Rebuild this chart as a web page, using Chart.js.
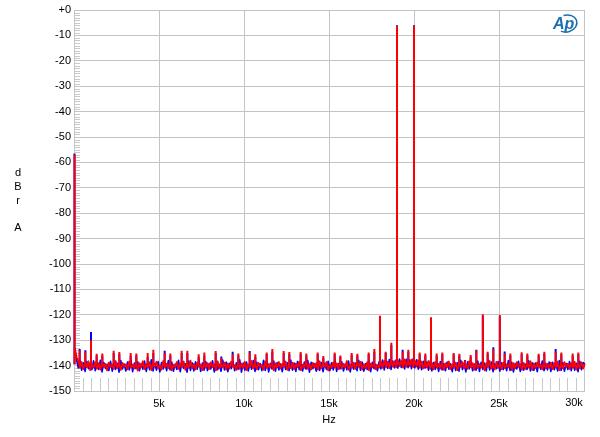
<!DOCTYPE html>
<html>
<head>
<meta charset="utf-8">
<script src="https://cdn.jsdelivr.net/npm/chart.js@4.4.1/dist/chart.umd.min.js"></script>
<style>
  html, body { margin: 0; padding: 0; background: #fff; }
  canvas { display: block; }
</style>
</head>
<body>
<canvas id="fft" width="600" height="437"></canvas>
<script>
// axis ticks
const xTicks = [5000, 10000, 15000, 20000, 25000, 30000];
const xTickLabels = ["5k", "10k", "15k", "20k", "25k", "30k"];
const yTicks = [0, -10, -20, -30, -40, -50, -60, -70, -80, -90, -100, -110, -120, -130, -140, -150];
const yTickLabels = ["+0", "-10", "-20", "-30", "-40", "-50", "-60", "-70", "-80", "-90", "-100", "-110", "-120", "-130", "-140", "-150"];

// noise floor bins: first bin at 50 Hz, one every 100 Hz
const floorStart = 50;
const floorStep = 100;
const redFloor = [
  -133.5, -136.8, -138.0, -140.9, -138.6, -141.4, -139.1, -140.6, -138.3, -141.8,
  -139.4, -140.8, -138.7, -141.2, -139.0, -141.6, -138.5, -140.7, -139.3, -141.9,
  -138.8, -140.5, -139.6, -141.3, -138.2, -141.0, -139.2, -141.7, -138.9, -140.4,
  -139.5, -141.5, -138.4, -140.9, -139.7, -141.1, -138.6, -142.0, -139.0, -140.6,
  -138.3, -141.4, -139.4, -140.8, -138.7, -141.8, -139.1, -140.3, -138.5, -141.2,
  -139.8, -141.6, -138.2, -140.7, -139.3, -141.0, -138.8, -141.9, -139.6, -140.5,
  -138.6, -141.3, -139.2, -140.6, -138.4, -141.7, -139.5, -140.9, -138.1, -141.1,
  -139.3, -141.5, -138.9, -140.4, -139.7, -141.8, -138.5, -140.8, -139.0, -141.4,
  -138.7, -140.6, -139.4, -141.9, -138.3, -141.0, -139.6, -140.7, -138.8, -141.6,
  -139.1, -141.2, -138.4, -140.5, -139.8, -141.7, -138.6, -141.3, -139.2, -140.9,
  -138.5, -141.8, -139.5, -140.6, -138.2, -141.1, -139.0, -141.5, -138.9, -140.4,
  -139.7, -141.6, -138.3, -141.0, -139.4, -140.8, -138.7, -141.9, -139.1, -140.7,
  -138.6, -141.2, -139.3, -140.5, -138.4, -141.7, -139.8, -141.0, -138.8, -141.4,
  -139.2, -140.6, -138.5, -141.8, -139.6, -140.9, -138.1, -141.3, -139.4, -141.5,
  -138.9, -140.7, -139.0, -141.6, -138.3, -141.1, -139.7, -140.4, -138.6, -141.9,
  -139.5, -141.0, -138.7, -140.8, -139.1, -141.4, -138.4, -141.2, -139.3, -140.6,
  -138.2, -141.7, -139.6, -140.9, -138.8, -141.3, -139.0, -140.5, -138.5, -141.6,
  -139.4, -141.1, -138.6, -141.8, -139.2, -140.7, -138.9, -141.4, -139.7, -140.8,
  -138.4, -140.9, -138.1, -140.6, -138.5, -141.0, -137.9, -140.4, -138.3, -140.7,
  -137.8, -140.2, -138.2, -140.8, -137.6, -140.5, -138.0, -140.3, -137.7, -140.6,
  -138.1, -140.4, -137.9, -140.9, -138.4, -141.1, -138.6, -140.7, -138.2, -141.3,
  -139.0, -141.5, -138.5, -140.8, -139.3, -141.2, -138.7, -141.7, -139.1, -140.6,
  -138.4, -141.4, -139.5, -140.9, -138.8, -141.8, -139.2, -140.5, -138.6, -141.1,
  -139.6, -141.3, -138.3, -140.7, -139.0, -141.6, -138.9, -141.0, -139.4, -140.8,
  -138.7, -141.9, -139.1, -140.6, -138.2, -141.2, -139.7, -141.5, -138.5, -140.9,
  -139.3, -141.4, -138.8, -141.0, -139.5, -140.7, -138.4, -141.8, -139.0, -141.1,
  -138.6, -140.5, -139.4, -141.6, -138.9, -141.3, -139.2, -140.8, -138.3, -141.7,
  -139.1, -141.0, -138.7, -140.6, -139.6, -141.5, -138.5, -141.2, -139.3, -140.9,
  -138.8, -141.4, -139.0, -140.7, -138.4, -141.8, -139.5, -141.1, -138.6, -140.6,
  -139.2, -141.3, -138.9, -140.8, -138.5, -141.6, -139.1, -141.0, -138.7, -141.2,
  -139.4
];
const blueFloor = [
  -133.0, -137.5, -140.9, -138.2, -141.8, -138.9, -142.3, -138.4, -141.2, -139.0,
  -141.6, -138.1, -142.0, -139.2, -141.4, -137.9, -142.5, -138.8, -141.1, -139.5,
  -141.9, -138.3, -142.2, -138.7, -141.5, -139.1, -142.6, -138.0, -141.3, -139.4,
  -142.1, -138.6, -141.7, -137.8, -142.4, -139.0, -141.2, -138.5, -142.0, -139.3,
  -141.4, -138.2, -142.3, -138.9, -141.6, -137.7, -142.1, -139.2, -141.8, -138.4,
  -142.5, -138.8, -141.3, -139.1, -142.0, -138.0, -141.7, -138.6, -142.2, -139.4,
  -141.5, -137.9, -142.4, -138.7, -141.1, -139.3, -142.6, -138.2, -141.9, -138.9,
  -142.1, -138.5, -141.4, -137.6, -142.3, -139.0, -141.8, -138.4, -142.0, -139.2,
  -141.3, -138.1, -142.5, -138.8, -141.6, -139.5, -142.2, -137.8, -141.7, -138.6,
  -142.4, -139.1, -141.2, -138.3, -142.0, -138.9, -141.5, -137.7, -142.6, -139.0,
  -141.8, -138.6, -142.1, -139.3, -141.4, -138.0, -142.3, -138.7, -141.6, -139.2,
  -142.0, -137.9, -141.9, -138.5, -142.5, -139.1, -141.3, -138.2, -142.2, -138.8,
  -141.7, -139.4, -142.4, -138.1, -141.5, -138.9, -142.0, -137.8, -141.8, -139.0,
  -142.3, -138.4, -141.6, -139.2, -142.1, -138.6, -141.4, -137.9, -142.6, -138.7,
  -141.2, -139.3, -142.2, -138.0, -141.9, -138.8, -142.4, -139.1, -141.5, -138.3,
  -142.0, -138.9, -141.7, -137.7, -142.3, -139.2, -141.3, -138.5, -142.1, -139.4,
  -141.6, -138.2, -142.5, -138.8, -141.4, -139.0, -142.0, -137.9, -141.8, -138.6,
  -142.2, -139.3, -141.5, -138.1, -142.4, -138.7, -141.2, -139.5, -142.0, -138.4,
  -141.3, -137.8, -141.7, -138.0, -141.1, -137.6, -141.5, -138.2, -140.9, -137.7,
  -141.0, -137.4, -140.7, -137.9, -141.3, -137.5, -140.8, -137.8, -141.2, -137.3,
  -140.9, -137.7, -141.4, -138.1, -141.6, -138.3, -141.0, -138.6, -141.8, -138.2,
  -142.1, -138.8, -141.5, -139.0, -142.3, -138.4, -141.7, -139.2, -142.0, -138.6,
  -141.4, -139.3, -142.4, -138.1, -141.9, -138.9, -142.2, -137.9, -141.6, -139.1,
  -142.5, -138.5, -141.3, -138.8, -142.0, -139.4, -141.8, -138.2, -142.3, -138.7,
  -141.5, -139.0, -142.1, -137.8, -141.7, -138.6, -142.4, -139.3, -141.2, -138.4,
  -142.2, -138.9, -141.6, -139.1, -142.0, -138.0, -141.9, -138.7, -142.5, -139.2,
  -141.3, -138.3, -142.3, -138.8, -141.8, -139.4, -141.5, -138.1, -142.1, -138.9,
  -141.9, -139.0, -142.4, -138.5, -141.4, -138.2, -142.0, -139.1, -141.7, -138.6,
  -142.3, -138.7, -141.6, -139.3, -142.1, -138.0, -141.9, -138.8, -142.2, -139.2,
  -141.5, -138.4, -142.0, -138.9, -141.8, -139.1, -142.4, -138.3, -141.6, -138.8,
  -139.5
];

// tones and spurs (Hz, dB), drawn as lines up from the floor level
const spurBase = -139.5;
const spurFreqs = [
  30, 333, 667, 1000, 1333, 1667, 2333, 2667, 3333, 3667, 4333, 4667,
  5333, 5667, 6333, 6667, 7333, 7667, 8333, 8667, 9333, 9667,
  10333, 10667, 11333, 11667, 12333, 12667, 13333, 13667, 14333, 14667,
  15333, 15667, 16333, 16667, 17333, 17667, 18000, 18333, 18667, 19000,
  19333, 19667, 20000, 20333, 20667, 21000, 21333, 21667, 22333, 22667,
  23000, 23333, 23667, 24050, 24333, 24667, 25050, 25333, 25667,
  26333, 26667, 27333, 27667, 28333, 28667, 29333, 29667
];
const redSpurs = [
  -57.0, -134.0, -134.5, -130.0, -135.3, -135.2, -134.2, -134.6, -135.0, -135.2, -135.0, -133.8,
  -135.0, -135.2, -134.2, -134.2, -135.5, -134.8, -134.3, -137.0, -135.5, -135.2,
  -134.8, -135.5, -134.8, -133.5, -134.3, -134.6, -134.6, -135.2, -134.8, -136.2,
  -134.8, -136.0, -135.0, -135.3, -134.8, -133.5, -120.4, -134.5, -131.0, -6.3,
  -134.5, -133.8, -6.3, -134.8, -135.2, -121.0, -135.2, -134.8, -135.0, -135.3,
  -138.0, -135.8, -134.0, -119.8, -134.5, -133.5, -120.1, -135.2, -135.2,
  -134.7, -135.2, -135.3, -134.5, -134.5, -134.8, -135.2, -134.8
];
const blueSpurs = [
  -56.5, -133.5, -134.0, -126.8, -136.0, -136.0, -135.0, -135.5, -136.0, -136.0, -136.5, -135.0,
  -134.2, -136.0, -135.0, -135.0, -136.5, -136.0, -135.0, -136.4, -134.5, -136.0,
  -134.3, -136.5, -135.5, -134.5, -135.0, -135.5, -135.3, -136.0, -135.5, -137.0,
  -135.5, -136.5, -135.8, -136.0, -135.5, -134.5, -121.0, -135.0, -132.0, -6.0,
  -133.8, -134.5, -6.0, -135.5, -136.0, -121.5, -136.0, -135.5, -135.5, -136.0,
  -137.8, -136.5, -133.8, -120.5, -135.2, -132.8, -120.8, -134.4, -136.0,
  -135.5, -136.0, -136.0, -135.2, -133.5, -135.5, -136.0, -135.5
];

function floorSeries(floor) {
  return floor.map((y, i) => ({ x: floorStart + i * floorStep, y }));
}
function spurSeries(levels) {
  const pts = [];
  spurFreqs.forEach((f, i) => {
    pts.push({ x: f, y: spurBase }, { x: f, y: levels[i] }, { x: f, y: null });
  });
  return pts;
}

const FONT = "'Liberation Sans', Arial, sans-serif";
const GRID = "#c4c4c4";

const extras = {
  id: "extras",
  beforeDatasetsDraw(chart) {
    const { ctx, chartArea: a, scales } = chart;
    ctx.save();
    ctx.strokeStyle = "#c8c8c8";
    ctx.lineWidth = 1;
    ctx.beginPath();
    for (let v = -149; v < 0; v++) {
      if (v % 10 === 0) continue;
      const y = Math.round(scales.y.getPixelForValue(v)) + 0.5;
      ctx.moveTo(a.left, y);
      ctx.lineTo(a.left + 6, y);
    }
    for (let f = 500; f < 30000; f += 500) {
      if (f % 5000 === 0) continue;
      const x = Math.round(scales.x.getPixelForValue(f)) + 0.5;
      ctx.moveTo(x, a.bottom);
      ctx.lineTo(x, a.bottom - 13);
    }
    ctx.stroke();
    ctx.restore();
  },
  afterDraw(chart) {
    const { ctx, chartArea: a } = chart;
    ctx.save();
    ctx.fillStyle = "#000";
    ctx.font = "11px " + FONT;
    ctx.textAlign = "center";
    ctx.textBaseline = "middle";
    [["d", 173], ["B", 187], ["r", 200.5], ["A", 228]].forEach(([t, y]) => ctx.fillText(t, 18, y));
    ctx.fillText("Hz", (a.left + a.right) / 2, 419.5);
    ctx.fillText(xTickLabels[xTickLabels.length - 1], 574, 402.5);

    // AP logo
    ctx.fillStyle = "#1b6fb3";
    ctx.strokeStyle = "#1b6fb3";
    ctx.font = "italic bold 16px " + FONT;
    ctx.textAlign = "left";
    ctx.textBaseline = "alphabetic";
    ctx.fillText("Ap", 553, 29);
    ctx.lineWidth = 1.5;
    ctx.beginPath();
    ctx.ellipse(566.5, 23.5, 10.5, 8.5, -0.2, -1.7, 2.3);
    ctx.stroke();
    ctx.restore();
  }
};

const lineStyle = { showLine: true, pointRadius: 0, spanGaps: false, clip: 3 };

new Chart(document.getElementById("fft"), {
  type: "scatter",
  data: {
    datasets: [
      Object.assign({ label: "red spurs", data: spurSeries(redSpurs), borderColor: "#ff0000", borderWidth: 2, order: 0 }, lineStyle),
      Object.assign({ label: "red", data: floorSeries(redFloor), borderColor: "#ff0000", borderWidth: 1.8, order: 1 }, lineStyle),
      Object.assign({ label: "blue spurs", data: spurSeries(blueSpurs), borderColor: "#0000ff", borderWidth: 2, order: 2 }, lineStyle),
      Object.assign({ label: "blue", data: floorSeries(blueFloor), borderColor: "#0000ff", borderWidth: 1.6, order: 3 }, lineStyle)
    ]
  },
  options: {
    responsive: false,
    animation: false,
    events: [],
    layout: { padding: { top: 10, right: 16, left: 0, bottom: 0 } },
    elements: { line: { tension: 0, borderJoinStyle: "round", borderCapStyle: "butt" } },
    plugins: { legend: { display: false }, tooltip: { enabled: false } },
    scales: {
      x: {
        type: "linear",
        min: 0,
        max: 30000,
        afterFit: (s) => { s.height = 46; },
        afterBuildTicks: (s) => { s.ticks = [0].concat(xTicks).map((v) => ({ value: v })); },
        ticks: {
          padding: 6,
          color: "#000",
          font: { family: FONT, size: 11 },
          maxRotation: 0,
          callback: (v) => {
            const i = xTicks.indexOf(v);
            return i < 0 || i === xTicks.length - 1 ? "" : xTickLabels[i];
          }
        },
        grid: { color: GRID, drawTicks: false },
        border: { color: GRID }
      },
      y: {
        min: -150,
        max: 0,
        afterFit: (s) => { s.width = 74; },
        afterBuildTicks: (s) => { s.ticks = yTicks.map((v) => ({ value: v })); },
        ticks: {
          padding: 3,
          color: "#000",
          font: { family: FONT, size: 11 },
          callback: (v) => yTickLabels[yTicks.indexOf(v)]
        },
        grid: { color: GRID, drawTicks: false },
        border: { color: GRID }
      }
    }
  },
  plugins: [extras]
});
</script>
</body>
</html>
